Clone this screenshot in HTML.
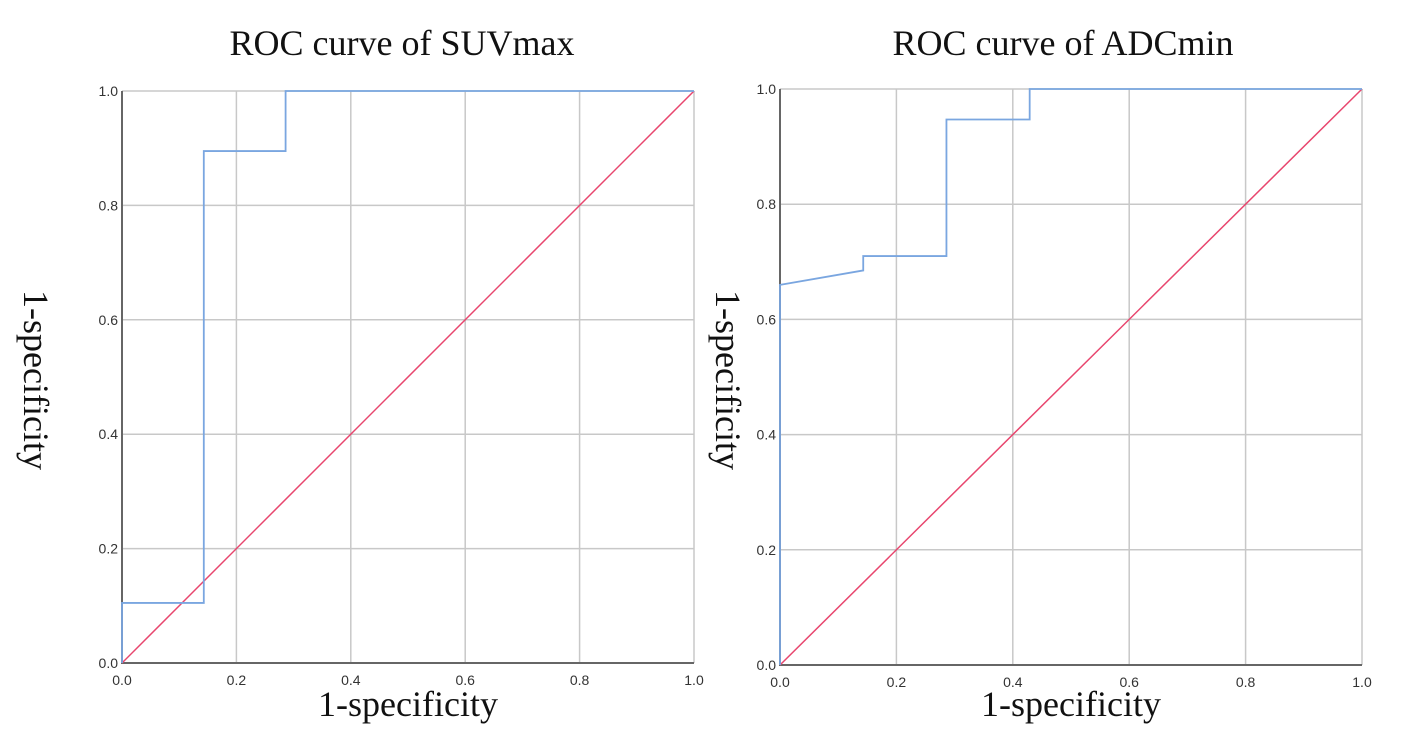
<!DOCTYPE html>
<html><head><meta charset="utf-8"><style>
body{margin:0;background:#fff;width:1424px;height:750px;overflow:hidden}
svg{display:block}
.tick{font-family:"Liberation Sans",sans-serif;font-size:14px;fill:#333}
.ttl{font-family:"Liberation Serif",serif;font-size:36px;fill:#111}
</style></head><body>
<svg id="c" width="1424" height="750"></svg>
<script>
const ticks=[0,0.2,0.4,0.6,0.8,1.0];
const tickLabels=["0.0","0.2","0.4","0.6","0.8","1.0"];
const suvX=[0,0,0.143,0.143,0.286,0.286,1];
const suvY=[0,0.105,0.105,0.895,0.895,1,1];
const adcX=[0,0,0.143,0.143,0.286,0.286,0.429,0.429,1];
const adcY=[0,0.66,0.685,0.71,0.71,0.947,0.947,1,1];
const refX=[0,1];
const refY=[0,1];
const NS="http://www.w3.org/2000/svg";
const svg=document.getElementById('c');
function mk(t,a,p){const e=document.createElementNS(NS,t);for(const k in a)e.setAttribute(k,a[k]);(p||svg).appendChild(e);return e;}
function panel(name,x0,x1,y0,y1,title,xs,ys,ytx,titleX){
 const g=mk('g',{});
 
 
 const sx=v=>x0+v*(x1-x0), sy=v=>y0-v*(y0-y1);
 ticks.forEach((t,i)=>{
  if(i>0){const l=mk('line',{x1:sx(t),x2:sx(t),y1:y1,y2:y0,stroke:'#c8c8c8','stroke-width':1.5},g);
  const h=mk('line',{x1:x0,x2:x1,y1:sy(t),y2:sy(t),stroke:'#c8c8c8','stroke-width':1.5},g);}
  const tx=mk('text',{x:sx(t),y:y0+22,'text-anchor':'middle',class:'tick'},g);tx.textContent=tickLabels[i];
  
  const ty=mk('text',{x:x0-4,y:sy(t)+5,'text-anchor':'end',class:'tick'},g);ty.textContent=tickLabels[i];
  
 });
 const ax=mk('path',{d:`M${x0},${y1}V${y0}H${x1}`,fill:'none',stroke:'#666','stroke-width':2},g);
 
 const r=mk('polyline',{points:refX.map((v,i)=>sx(v)+','+sy(refY[i])).join(' '),fill:'none',stroke:'#e8466e','stroke-width':1.5},g);
 
 const c=mk('polyline',{points:xs.map((v,i)=>sx(v)+','+sy(ys[i])).join(' '),fill:'none',stroke:'#7aa6e0','stroke-width':1.8},g);
 
 const t=mk('text',{x:titleX,y:55,'text-anchor':'middle',class:'ttl'},g);t.textContent=title;
 
 const xt=mk('text',{x:(x0+x1)/2,y:716,'text-anchor':'middle',class:'ttl'},g);xt.textContent='1-specificity';
 
 const yt=mk('text',{x:0,y:0,'text-anchor':'middle',class:'ttl',transform:`translate(${ytx},380) rotate(90)`},g);yt.textContent='1-specificity';
 
}
panel('suvmax-panel',122,694,663,91,'ROC curve of SUVmax',suvX,suvY,24,402);
panel('adcmin-panel',780,1362,665,89,'ROC curve of ADCmin',adcX,adcY,716,1063);
</script>
</body></html>
